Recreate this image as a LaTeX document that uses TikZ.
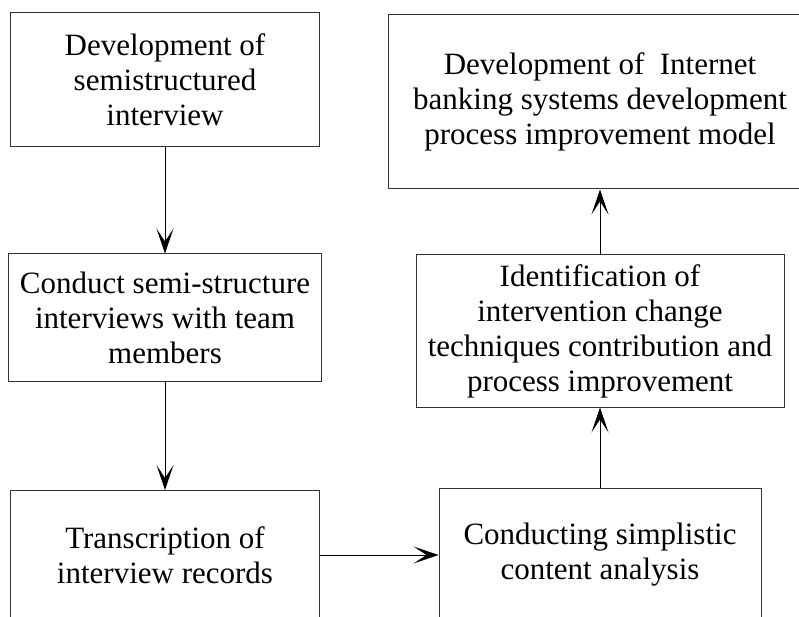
\documentclass[tikz,border=0pt]{standalone}
\usepackage{fontspec}
\setmainfont{Liberation Serif}
\usetikzlibrary{arrows.meta}
\begin{document}
\begin{tikzpicture}[x=1pt,y=-1pt,
  stepbox/.style={draw=black!80,line width=1pt,rectangle,inner sep=0pt,
    align=center,font=\fontsize{31}{35}\selectfont},
  arr/.style={line width=1pt,-{Stealth[length=25pt,width=17pt,inset=13pt]}}]
\useasboundingbox (0,0) rectangle (799,617);
\clip (0,0) rectangle (799,617);
% left column
\node[stepbox,minimum width=309pt,minimum height=134pt] (dev) at (165,80)
  {Development of\\semistructured\\interview};
\node[stepbox,minimum width=313pt,minimum height=127pt] (conduct) at (165,317.5)
  {Conduct semi-structure\\interviews with team\\members};
\node[stepbox,minimum width=309pt,minimum height=129pt] (trans) at (165,555)
  {Transcription of\\interview records};
% right column
\node[stepbox,minimum width=322pt,minimum height=134pt] (content) at (600,555)
  {Conducting simplistic\\content analysis};
\node[stepbox,minimum width=368pt,minimum height=152pt] (ident) at (600,331)
  {Identification of\\intervention change\\techniques contribution and\\process improvement};
\node[stepbox,minimum width=424pt,minimum height=174pt] (model) at (600,102)
  {Development of\ \ Internet\\banking systems development\\process improvement model};
% connectors
\draw[arr] (dev) -- (conduct);
\draw[arr] (conduct) -- (trans);
\draw[arr] (trans) -- (content);
\draw[arr] (content) -- (ident);
\draw[arr] (ident) -- (model);
\end{tikzpicture}
\end{document}
